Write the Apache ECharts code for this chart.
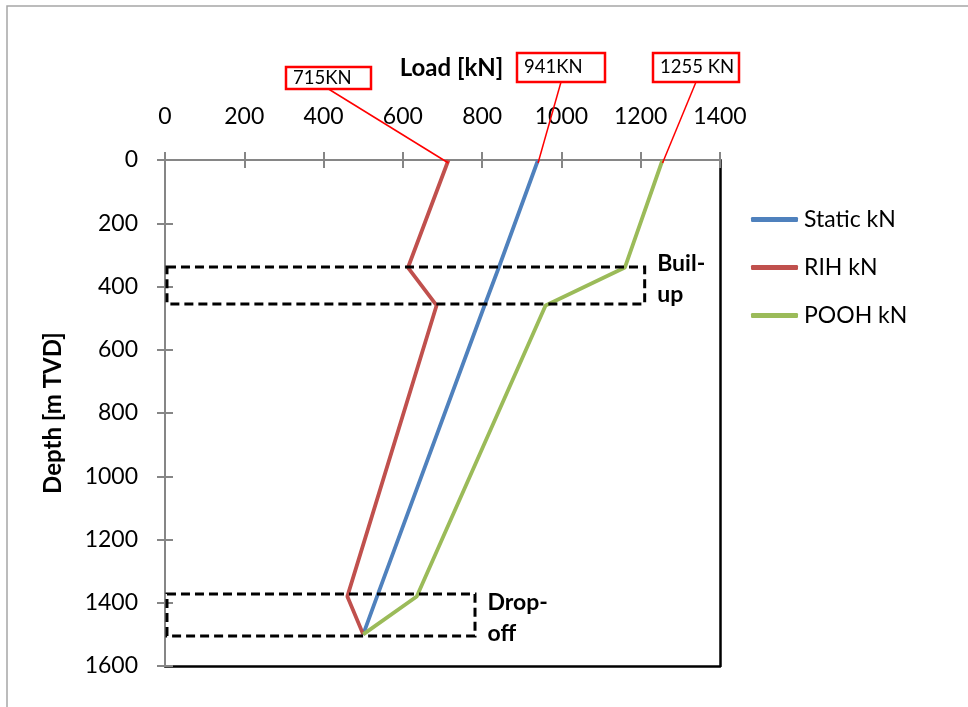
<!DOCTYPE html>
<html>
<head>
<meta charset="utf-8">
<script src="https://cdn.jsdelivr.net/npm/echarts@6/dist/echarts.min.js"></script>
<style>
html,body{margin:0;padding:0;background:#fff;}
#chart{width:968px;height:707px;}
</style>
</head>
<body>
<div id="chart"></div>
<script>
// ---- data ----
const seriesNames = ['Static kN', 'RIH kN', 'POOH kN'];
const depthM = [0, 340, 460, 1380, 1500];
const staticKN = [941, 842, 806, 535, 500];
const rihKN = [715, 613, 685, 460, 500];
const poohKN = [1255, 1160, 960, 635, 500];
const loadTicks = [0, 200, 400, 600, 800, 1000, 1200, 1400];
const depthTicks = [0, 200, 400, 600, 800, 1000, 1200, 1400, 1600];
const calloutTexts = ['715KN', '941KN', '1255 KN'];
const calloutValues = [715, 941, 1255];
const zoneNames = ['Buil-\nup', 'Drop-\noff'];
const zoneLoadFrom = [5, 5];
const zoneLoadTo = [1210, 782];
const zoneDepthFrom = [338, 1372];
const zoneDepthTo = [455, 1505];

// ---- styles / layout ----
const colors = ['#4F81BD', '#C0504D', '#9BBB59'];
const FONT = 'Lato';
const calloutBoxes = [
  {x: 286, y: 67, w: 85, h: 22},
  {x: 517, y: 53, w: 88, h: 29},
  {x: 653, y: 53, w: 86, h: 29}
];

const pairs = (xs) => xs.map((v, i) => [v, depthM[i]]);
const allSeries = [staticKN, rihKN, poohKN];

const xMin = loadTicks[0], xMax = loadTicks[loadTicks.length - 1], xInt = loadTicks[1] - loadTicks[0];
const yMin = depthTicks[0], yMax = depthTicks[depthTicks.length - 1], yInt = depthTicks[1] - depthTicks[0];
const plain = (v) => String(v);

const chart = echarts.init(document.getElementById('chart'), null, {renderer: 'canvas'});

const gray = '#868686';
const baseX = {type: 'value', min: xMin, max: xMax, interval: xInt, splitLine: {show: false}};
const baseY = {type: 'value', min: yMin, max: yMax, interval: yInt, inverse: true, splitLine: {show: false}};

const option = {
  animation: false,
  backgroundColor: '#fff',
  textStyle: {fontFamily: FONT},
  grid: {left: 165, right: 248, top: 160, bottom: 41, containLabel: false},
  xAxis: [
    Object.assign({}, baseX, {
      position: 'top',
      name: 'Load [kN]',
      nameLocation: 'middle',
      nameGap: 80,
      nameTextStyle: {fontFamily: FONT, fontSize: 24, fontWeight: 'bold', color: '#000', padding: [0, 0, 0, 18]},
      axisLine: {show: true, onZero: false, lineStyle: {color: gray, width: 2}},
      axisTick: {show: true, inside: false, length: 8, lineStyle: {color: gray, width: 2}},
      axisLabel: {show: true, margin: 32, fontFamily: FONT, fontSize: 23, color: '#000', formatter: plain}
    }),
    Object.assign({}, baseX, {
      position: 'top',
      axisLine: {show: false, onZero: false},
      axisTick: {show: true, inside: true, length: 8, lineStyle: {color: gray, width: 2}},
      axisLabel: {show: false}
    }),
    Object.assign({}, baseX, {
      position: 'bottom',
      axisLine: {show: true, onZero: false, lineStyle: {color: '#000', width: 2.5}},
      axisTick: {show: false},
      axisLabel: {show: false}
    })
  ],
  yAxis: [
    Object.assign({}, baseY, {
      position: 'left',
      name: 'Depth [m TVD]',
      nameLocation: 'middle',
      nameGap: 100,
      nameRotate: 90,
      nameTextStyle: {fontFamily: FONT, fontSize: 24, fontWeight: 'bold', color: '#000'},
      axisLine: {show: true, onZero: false, lineStyle: {color: gray, width: 2}},
      axisTick: {show: true, inside: false, length: 8, lineStyle: {color: gray, width: 2}},
      axisLabel: {show: true, margin: 27, fontFamily: FONT, fontSize: 23, color: '#000', formatter: plain}
    }),
    Object.assign({}, baseY, {
      position: 'left',
      axisLine: {show: false, onZero: false},
      axisTick: {show: true, inside: true, length: 8, lineStyle: {color: gray, width: 2}},
      axisLabel: {show: false}
    }),
    Object.assign({}, baseY, {
      position: 'right',
      axisLine: {show: true, onZero: false, lineStyle: {color: '#000', width: 2.5}},
      axisTick: {show: false},
      axisLabel: {show: false}
    })
  ],
  legend: {
    orient: 'vertical',
    left: 746,
    top: 203,
    itemWidth: 47,
    itemHeight: 5,
    itemGap: 25,
    icon: 'roundRect',
    textStyle: {fontFamily: FONT, fontSize: 23, color: '#000', padding: [0, 0, 0, 1]},
    data: seriesNames
  },
  series: allSeries.map((vals, i) => {
    const s = {
      name: seriesNames[i],
      type: 'line',
      xAxisIndex: 0,
      yAxisIndex: 0,
      data: pairs(vals),
      symbol: 'none',
      color: colors[i],
      lineStyle: {color: colors[i], width: 3.8},
      z: 3
    };
    if (i === 0) {
      s.markArea = {
        silent: true,
        z: 5,
        itemStyle: {color: 'rgba(0,0,0,0)', borderColor: '#000', borderWidth: 3, borderType: [9, 5]},
        label: {
          show: true,
          position: 'right',
          distance: 11,
          fontFamily: FONT,
          fontSize: 23,
          fontWeight: 'bold',
          color: '#000',
          lineHeight: 31
        },
        data: zoneNames.map((nm, k) => [
          {name: nm, coord: [zoneLoadFrom[k], zoneDepthFrom[k]], label: {offset: [0, k === 0 ? -6 : 3]}},
          {coord: [zoneLoadTo[k], zoneDepthTo[k]]}
        ])
      };
    }
    return s;
  })
};

chart.setOption(option);

// callouts with leader lines (anchor computed through the axes)
const graphics = [{
  type: 'rect',
  shape: {x: 7, y: 6, width: 1000, height: 800},
  style: {fill: 'none', stroke: '#A6A6A6', lineWidth: 1.5},
  silent: true,
  z: 0
}];
calloutTexts.forEach((t, i) => {
  const b = calloutBoxes[i];
  const p = chart.convertToPixel({xAxisIndex: 0, yAxisIndex: 0}, [calloutValues[i], depthM[0]]);
  graphics.push({
    type: 'line',
    shape: {x1: b.x + b.w / 2, y1: b.y + b.h, x2: p[0], y2: p[1] + 3},
    style: {stroke: '#FF0000', lineWidth: 1.5},
    silent: true,
    z: 10
  });
  graphics.push({
    type: 'rect',
    shape: {x: b.x, y: b.y, width: b.w, height: b.h},
    style: {fill: '#fff', stroke: '#FF0000', lineWidth: 2.5},
    silent: true,
    z: 11
  });
  graphics.push({
    type: 'text',
    x: b.x + 7,
    y: b.y + b.h / 2,
    style: {text: t, fontFamily: FONT, fontSize: 18.5, fill: '#000', verticalAlign: 'middle', align: 'left'},
    silent: true,
    z: 12
  });
});
chart.setOption({graphic: graphics});
</script>
</body>
</html>
